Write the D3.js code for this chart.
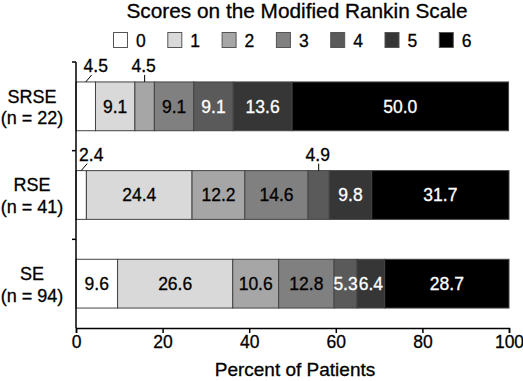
<!DOCTYPE html>
<html>
<head>
<meta charset="utf-8">
<script src="https://cdn.jsdelivr.net/npm/d3@7"></script>
<style>
  body { margin: 0; background: #fff; }
  svg { display: block; font-family: "Liberation Sans", Arial, sans-serif; }
  text { stroke: currentColor; stroke-width: 0.3px; }
  .axis path, .axis line { stroke: #000; stroke-width: 1.5; }
  .axis text { font-size: 17.5px; fill: #000; stroke: #000; stroke-width: 0.3px; }
</style>
</head>
<body>
<svg width="523" height="381"></svg>
<script>
// Groups (rows) and their labels
var groups = ['SRSE', 'RSE', 'SE'];
var groupNs = ['(n = 22)', '(n = 41)', '(n = 94)'];

// mRS scores 0-6
var scores = ['0', '1', '2', '3', '4', '5', '6'];

// Percent of patients for each score, per group
var srseValues = [4.5, 9.1, 4.5, 9.1, 9.1, 13.6, 50.0];
var rseValues = [2.4, 24.4, 12.2, 14.6, 4.9, 9.8, 31.7];
var seValues = [9.6, 26.6, 10.6, 12.8, 5.3, 6.4, 28.7];

var xTicks = [0, 20, 40, 60, 80, 100];

var fills = ['#ffffff', '#d9d9d9', '#a6a6a6', '#808080', '#5a5a5a', '#363636', '#000000'];

var svg = d3.select('svg');
var padding = {t: 62, r: 14, b: 53, l: 76};
var svgWidth = +svg.attr('width');
var svgHeight = +svg.attr('height');
var chartWidth = svgWidth - padding.l - padding.r;
var chartHeight = svgHeight - padding.t - padding.b;

var xScale = d3.scaleLinear().domain([0, 100]).range([0, chartWidth]);
var yScale = d3.scaleBand().domain(groups).range([0, chartHeight]).paddingInner(0.45).paddingOuter(0.225);
var colorScale = d3.scaleOrdinal().domain(scores).range(fills);

var rows = [srseValues, rseValues, seValues].map(function(vals, i) {
    var start = 0;
    return {
        group: groups[i],
        segs: vals.map(function(v, j) {
            var s = {score: scores[j], value: v, x0: start, x1: start + v, group: groups[i]};
            start += v;
            return s;
        })
    };
});

var chartG = svg.append('g')
    .attr('transform', 'translate(' + [padding.l, padding.t] + ')');

// Title
svg.append('text')
    .attr('x', 297)
    .attr('y', 18)
    .attr('text-anchor', 'middle')
    .style('font-size', '20.8px')
    .text('Scores on the Modified Rankin Scale');

// Legend
var legend = svg.append('g').attr('transform', 'translate(113,32)');
var legendItems = legend.selectAll('.legend-item')
    .data(scores)
    .enter().append('g')
    .attr('class', 'legend-item')
    .attr('transform', function(d, i) { return 'translate(' + [i * 54.3, 0] + ')'; });
legendItems.append('rect')
    .attr('x', 0.5).attr('y', 0.5)
    .attr('width', 14).attr('height', 15)
    .attr('fill', function(d) { return colorScale(d); })
    .attr('stroke', '#555');
legendItems.append('text')
    .attr('x', 23)
    .attr('y', 15)
    .style('font-size', '17.5px')
    .text(function(d) { return d; });

// Bars
var rowG = chartG.selectAll('.row')
    .data(rows)
    .enter().append('g')
    .attr('class', 'row')
    .attr('transform', function(d) { return 'translate(' + [0, yScale(d.group)] + ')'; });

rowG.selectAll('rect')
    .data(function(d) { return d.segs; })
    .enter().append('rect')
    .attr('x', function(d) { return xScale(d.x0); })
    .attr('width', function(d) { return xScale(d.x1) - xScale(d.x0); })
    .attr('height', yScale.bandwidth())
    .attr('fill', function(d) { return colorScale(d.score); })
    .attr('stroke', '#444')
    .attr('stroke-width', 1);

// Segment labels: inside if wide enough, otherwise above with a leader line
rowG.selectAll('.seg-label')
    .data(function(d) { return d.segs; })
    .enter().each(function(d) {
        var g = d3.select(this);
        var cx = xScale((d.x0 + d.x1) / 2);
        var w = xScale(d.x1) - xScale(d.x0);
        var txt = d.value.toFixed(1);
        if (w >= 22) {
            var dark = +d.score >= 4;
            g.append('text')
                .attr('class', 'seg-label')
                .attr('x', cx)
                .attr('y', yScale.bandwidth() / 2)
                .attr('dy', '0.36em')
                .attr('text-anchor', 'middle')
                .style('font-size', '17.5px')
                .style('color', dark ? '#fff' : '#000')
                .attr('fill', dark ? '#fff' : '#000')
                .text(txt);
        } else if (d.x0 === 0) {
            // diagonal leader for the first segment
            g.append('line')
                .attr('x1', cx).attr('y1', 0)
                .attr('x2', cx + 6).attr('y2', -7)
                .attr('stroke', '#000');
            g.append('text')
                .attr('class', 'seg-label')
                .attr('x', cx + 10)
                .attr('y', -10)
                .attr('text-anchor', 'middle')
                .style('font-size', '17.5px')
                .text(txt);
        } else {
            g.append('line')
                .attr('x1', cx).attr('y1', 0)
                .attr('x2', cx).attr('y2', -7)
                .attr('stroke', '#000');
            g.append('text')
                .attr('class', 'seg-label')
                .attr('x', cx - 1)
                .attr('y', -10)
                .attr('text-anchor', 'middle')
                .style('font-size', '17.5px')
                .text(txt);
        }
    });

// Axes
svg.append('g')
    .attr('class', 'x axis')
    .attr('transform', 'translate(' + [padding.l, padding.t + chartHeight] + ')')
    .call(d3.axisBottom(xScale).tickValues(xTicks).tickSize(5).tickSizeOuter(5).tickPadding(3));

var yAxisG = svg.append('g')
    .attr('class', 'y axis')
    .attr('transform', 'translate(' + [padding.l, padding.t] + ')');
yAxisG.append('line')
    .attr('x1', 0).attr('x2', 0)
    .attr('y1', 0).attr('y2', chartHeight);
yAxisG.selectAll('.ytick')
    .data(d3.range(groups.length))
    .enter().append('line')
    .attr('class', 'ytick')
    .attr('x1', -4).attr('x2', 0)
    .attr('y1', function(i) { return i * chartHeight / groups.length; })
    .attr('y2', function(i) { return i * chartHeight / groups.length; });

// Row labels
var rowLabels = svg.selectAll('.row-label')
    .data(groups)
    .enter().append('text')
    .attr('class', 'row-label')
    .attr('text-anchor', 'middle')
    .attr('x', 32)
    .attr('y', function(d) { return padding.t + yScale(d) + yScale.bandwidth() / 2; })
    .style('font-size', '18px');
rowLabels.append('tspan')
    .attr('x', 32).attr('dy', '-0.2em')
    .text(function(d) { return d; });
rowLabels.append('tspan')
    .attr('x', 32).attr('dy', '1.2em')
    .text(function(d, i) { return groupNs[i]; });

// X axis title
svg.append('text')
    .attr('x', 295)
    .attr('y', 376)
    .attr('text-anchor', 'middle')
    .style('font-size', '19px')
    .text('Percent of Patients');
</script>
</body>
</html>
